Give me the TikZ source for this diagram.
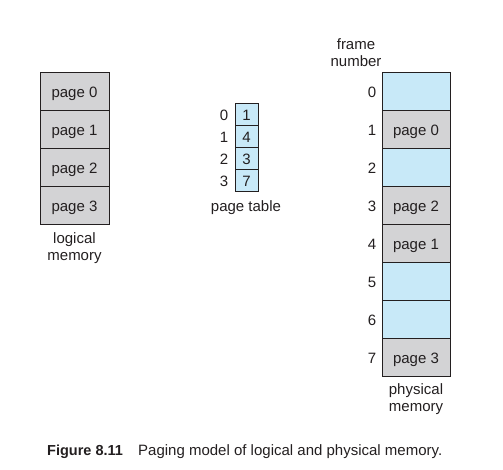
\documentclass[tikz,border=0pt]{standalone}
\usepackage{fontspec}
\setmainfont{Liberation Sans}
\definecolor{pagegray}{RGB}{211,211,213}
\definecolor{framblue}{RGB}{200,233,248}
\definecolor{ink}{RGB}{35,31,32}
\tikzset{
  cell/.style = {draw = ink, line width = .8pt, inner sep = 0pt, text = ink,
    text height = 12.5pt, text depth = 0pt},
  pagecell/.style = {cell, fill = pagegray, minimum width = 69pt, minimum height = 38pt},
  framecell/.style = {cell, minimum width = 68pt, minimum height = 38pt},
  tabcell/.style = {cell, fill = framblue, minimum width = 23pt, minimum height = 22.1pt},
  lbl/.style = {text = ink, inner sep = 0pt, align = center},
  num/.style = {lbl, text height = 12.5pt, text depth = 0pt}
}
\begin{document}
\begin{tikzpicture}[x = 1pt, y = -1pt, font = \fontsize{15}{17}\selectfont]
\useasboundingbox (0,0) rectangle (503,469);
% logical memory
\node (L0) [pagecell] at (74.5, 91) {page 0};
\node (L1) [pagecell] at (74.5,129) {page 1};
\node (L2) [pagecell] at (74.5,167) {page 2};
\node (L3) [pagecell] at (74.5,205) {page 3};
\node (logical) [lbl] at (74.5,248) {logical\\memory};
% page table
\node (T0) [tabcell] at (246.5,114.4) {1};
\node (T1) [tabcell] at (246.5,136.5) {4};
\node (T2) [tabcell] at (246.5,158.6) {3};
\node (T3) [tabcell] at (246.5,180.7) {7};
\node (i0) [num] at (224,114.4) {0};
\node (i1) [num] at (224,136.5) {1};
\node (i2) [num] at (224,158.6) {2};
\node (i3) [num] at (224,180.7) {3};
\node (ptable) [lbl] at (246,208) {page table};
% physical memory
\node (F0) [framecell, fill = framblue] at (416, 91) {};
\node (F1) [framecell, fill = pagegray] at (416,129) {page 0};
\node (F2) [framecell, fill = framblue] at (416,167) {};
\node (F3) [framecell, fill = pagegray] at (416,205) {page 2};
\node (F4) [framecell, fill = pagegray] at (416,243) {page 1};
\node (F5) [framecell, fill = framblue] at (416,281) {};
\node (F6) [framecell, fill = framblue] at (416,319) {};
\node (F7) [framecell, fill = pagegray] at (416,357) {page 3};
\node (n0) [num] at (372, 91) {0};
\node (n1) [num] at (372,129) {1};
\node (n2) [num] at (372,167) {2};
\node (n3) [num] at (372,205) {3};
\node (n4) [num] at (372,243) {4};
\node (n5) [num] at (372,281) {5};
\node (n6) [num] at (372,319) {6};
\node (n7) [num] at (372,357) {7};
\node (frame) [lbl] at (356,53) {frame\\number};
\node (physical) [lbl] at (416,399) {physical\\memory};
% caption
\node (fig) [lbl, anchor = west, font = \fontsize{14.5}{17}\selectfont\bfseries] at (47,452) {Figure 8.11};
\node (cap) [lbl, anchor = west] at (138,452) {Paging model of logical and physical memory.};
\end{tikzpicture}
\end{document}
